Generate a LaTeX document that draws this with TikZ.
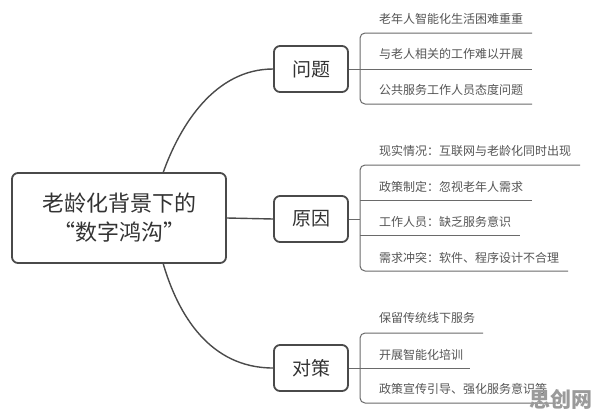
\documentclass[tikz,border=0pt]{standalone}
\usepackage{fontspec}
\setmainfont{Noto Sans CJK SC}
\usetikzlibrary{calc}
\definecolor{boxline}{HTML}{4A4A4A}
\definecolor{maintext}{HTML}{333333}
\definecolor{subtext}{HTML}{555555}
\definecolor{thinline}{HTML}{6A6A6A}
\definecolor{wm}{HTML}{9A9A9A}
\tikzset{
  rootbox/.style={draw=boxline, line width=1.8pt, rounded corners=6pt, minimum width=214pt, minimum height=90pt, align=center, font=\fontsize{22}{29}\selectfont, text=maintext, inner sep=0pt},
  topicbox/.style={draw=boxline, line width=1.8pt, rounded corners=6pt, minimum width=74pt, minimum height=46pt, font=\fontsize{19}{22}\selectfont, text=maintext, inner sep=0pt},
  conn/.style={draw=boxline, line width=1.4pt},
  leafline/.style={draw=thinline, line width=1pt},
  bracket/.style={draw=thinline, line width=1pt, rounded corners=5pt},
  leaf/.style={anchor=west, inner sep=0pt, font=\fontsize{12}{14}\selectfont, text=subtext},
}
\begin{document}
\begin{tikzpicture}[x=1pt,y=-1pt]
\useasboundingbox (0,0) rectangle (596,418);
\fill[white] (0,0) rectangle (596,418);

% root and topics
\node[rootbox] (root) at (119,218) {老龄化背景下的\\“数字鸿沟”};
\node[topicbox] (q) at (311,69) {问题};
\node[topicbox] (r) at (311,219) {原因};
\node[topicbox] (d) at (311,368) {对策};

\coordinate (rtop) at (163,173);
\coordinate (rbot) at (163,263);
\draw[conn] (rtop) .. controls (180,125) and (215,69) .. (q.west);
\draw[conn] (root.east) -- (r.west);
\draw[conn] (rbot) .. controls (178,315) and (210,368) .. (d.west);

% group: 问题
\node[leaf] (q1) at (379,19) {老年人智能化生活困难重重};
\node[leaf] (q2) at (379,54) {与老人相关的工作难以开展};
\node[leaf] (q3) at (379,90) {公共服务工作人员态度问题};
\coordinate (q1e) at (532,33);
\coordinate (q2e) at (532,69);
\coordinate (q3e) at (532,104);
\draw[bracket] (q1e) -| (360,104) -- (q3e);
\draw[leafline] (q.east) -- (q2e);

% group: 原因
\node[leaf] (r1) at (379,151) {现实情况：互联网与老龄化同时出现};
\node[leaf] (r2) at (379,187) {政策制定：忽视老年人需求};
\node[leaf] (r3) at (379,222) {工作人员：缺乏服务意识};
\node[leaf] (r4) at (379,258) {需求冲突：软件、程序设计不合理};
\coordinate (r1e) at (580,165);
\coordinate (r2e) at (532,200);
\coordinate (r3e) at (520,235);
\coordinate (r4e) at (568,271);
\draw[bracket] (r1e) -| (360,271) -- (r4e);
\draw[leafline] (360,200) -- (r2e);
\draw[leafline] (360,235) -- (r3e);
\draw[leafline] (r.east) -- (360,219);

% group: 对策
\node[leaf] (d1) at (379,318) {保留传统线下服务};
\node[leaf] (d2) at (379,355) {开展智能化培训};
\node[leaf] (d3) at (379,389) {政策宣传引导、强化服务意识等};
\coordinate (d1e) at (483,333);
\coordinate (d2e) at (470,368);
\coordinate (d3e) at (556,403);
\draw[bracket] (d1e) -| (360,403) -- (d3e);
\draw[leafline] (d.east) -- (d2e);

% watermark
\node[anchor=center, inner sep=0pt, font=\fontsize{21}{24}\selectfont\bfseries, text=wm] (wmark) at (561,399) {思创网};
\end{tikzpicture}
\end{document}
